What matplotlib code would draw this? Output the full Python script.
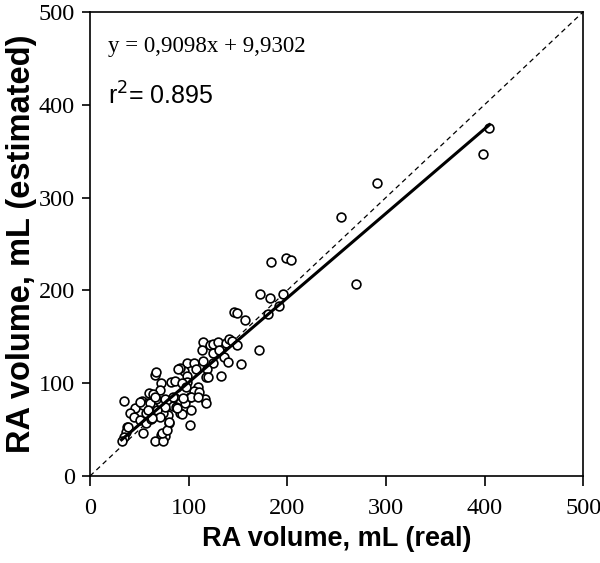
import matplotlib
matplotlib.use("Agg")
import matplotlib.pyplot as plt
import numpy as np

# Data
real_ml = [405, 398, 291, 254, 270, 183, 199, 204, 172, 182, 196, 192, 180, 157, 146, 149, 171, 153,
           115, 122, 125, 130, 138, 141, 144, 149, 114, 125, 131, 136, 125, 115, 98, 105, 107, 119, 95,
           98, 118, 120, 133, 98, 109, 105, 101, 117, 91,
           34, 66, 67, 72, 89, 82, 86, 93, 71, 60, 64, 67, 53, 59, 46, 41, 54, 64, 76, 81, 86, 84, 91,
           94, 71, 66, 79, 60, 45, 38, 36, 34, 32, 54, 51, 57, 57, 62, 74, 80, 72, 76, 66, 74, 87, 91,
           101, 118, 93, 96, 102, 97, 94, 84, 88, 102, 51, 61, 59, 66, 76, 68, 39, 73, 78, 80, 71, 63,
           110, 109, 140]
est_ml = [375, 347, 316, 279, 207, 230, 235, 233, 196, 192, 196, 183, 175, 168, 177, 176, 136, 121,
          144, 141, 142, 144, 143, 148, 145, 141, 136, 133, 136, 128, 122, 124, 122, 122, 115, 115, 113,
          108, 107, 107, 108, 101, 96, 92, 85, 83, 116,
          81, 109, 112, 100, 115, 101, 102, 100, 93, 89, 88, 83, 81, 79, 73, 68, 77, 74, 83, 79, 84, 75, 79,
          73, 68, 66, 66, 61, 64, 53, 47, 42, 38, 46, 60, 68, 57, 61, 68, 57, 44, 43, 38, 38, 74, 68,
          55, 79, 67, 79, 85, 96, 84, 85, 73, 71, 80, 79, 71, 85, 74, 71, 53, 46, 50, 58, 64, 63,
          91, 85, 123]

slope = 0.9098
intercept = 9.9302
r2 = 0.895

ticks = [0, 100, 200, 300, 400, 500]

fig = plt.figure(figsize=(6.0, 5.63), dpi=100)
ax = fig.add_axes([0.15, 0.1545, 0.822, 0.8245])

ax.plot([0, 500], [0, 500], linestyle=(0, (4, 3)), color="black", linewidth=0.9, zorder=1)
xs = np.array([min(real_ml), max(real_ml)])
ax.plot(xs, slope * xs + intercept, color="black", linewidth=2.2, zorder=3)
ax.scatter(real_ml, est_ml, s=40, facecolors="white", edgecolors="black", linewidths=1.2, zorder=2)

ax.set_xlim(0, 500)
ax.set_ylim(0, 500)
ax.set_xticks(ticks)
ax.set_yticks(ticks)
ax.set_xticklabels([str(t) for t in ticks], family="Liberation Serif", fontsize=17.5)
ax.set_yticklabels([str(t) for t in ticks], family="Liberation Serif", fontsize=17.5)
ax.tick_params(axis="x", direction="out", length=7, width=1.2, top=False, pad=9)
ax.tick_params(axis="y", direction="out", length=6, width=1.2, right=False, pad=5)
for sp in ax.spines.values():
    sp.set_linewidth(1.2)

ax.set_xlabel("RA volume, mL (real)", family="Liberation Sans", fontweight="bold", fontsize=19.5, labelpad=5)
ax.set_ylabel("RA volume, mL (estimated)", family="Liberation Sans", fontweight="bold", fontsize=23.5, labelpad=1)

ax.text(0.037, 0.914, "y = 0,9098x + 9,9302", transform=ax.transAxes, family="Liberation Serif", fontsize=16.5,
        va="baseline")
ax.text(0.037, 0.8, "r$^2$= 0.895", transform=ax.transAxes, family="Liberation Sans", fontsize=18,
        va="baseline")

fig.savefig("out.png", dpi=100)
